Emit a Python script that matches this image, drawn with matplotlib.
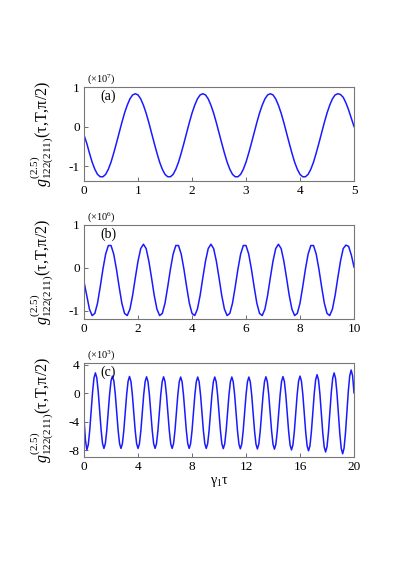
import numpy as np
import matplotlib
matplotlib.use('Agg')
import matplotlib.pyplot as plt

plt.rcParams['font.family'] = ['Liberation Serif', 'DejaVu Serif']
plt.rcParams['mathtext.fontset'] = 'custom'
plt.rcParams['mathtext.rm'] = 'Liberation Serif'
plt.rcParams['mathtext.it'] = 'Liberation Serif:italic'
plt.rcParams['mathtext.bf'] = 'Liberation Serif:bold'
plt.rcParams['axes.unicode_minus'] = False

# valeurs (unites de 1e7, 1e6, 1e3)
tau_a = np.linspace(0, 5, 101)
g_a = [-0.22, -0.42, -0.67, -0.90, -1.08, -1.21, -1.27, -1.27, -1.21, -1.08,
       -0.90, -0.67, -0.42, -0.16, 0.10, 0.34, 0.54, 0.70, 0.80,
       0.83, 0.80, 0.70, 0.54, 0.34, 0.10, -0.16, -0.42, -0.67, -0.90,
       -1.08, -1.21, -1.27, -1.27, -1.21, -1.08, -0.90, -0.67, -0.42, -0.16,
       0.10, 0.34, 0.54, 0.70, 0.80,
       0.83, 0.80, 0.70, 0.54, 0.34, 0.10, -0.16, -0.42, -0.67, -0.90,
       -1.08, -1.21, -1.27, -1.27, -1.21, -1.08, -0.90, -0.67, -0.42, -0.16,
       0.10, 0.34, 0.54, 0.70, 0.80,
       0.83, 0.80, 0.70, 0.54, 0.34, 0.10, -0.16, -0.42, -0.67, -0.90,
       -1.08, -1.21, -1.27, -1.27, -1.21, -1.08, -0.90, -0.67, -0.42, -0.16,
       0.10, 0.34, 0.54, 0.70, 0.80,
       0.83, 0.81, 0.74, 0.60, 0.42, 0.21, 0.00]

tau_b = np.linspace(0, 10, 101)
g_b = [-0.33, -0.64, -0.96, -1.11, -1.06, -0.82, -0.44, -0.03, 0.32, 0.52,
       0.52, 0.32, -0.03, -0.44, -0.82, -1.06, -1.11, -0.96, -0.64, -0.23,
       0.16, 0.45, 0.55, 0.45, 0.16,
       -0.23, -0.64, -0.96, -1.11, -1.06, -0.82, -0.44, -0.03, 0.32, 0.52,
       0.52, 0.32, -0.03, -0.44, -0.82, -1.06, -1.11, -0.96, -0.64, -0.23,
       0.16, 0.45, 0.55, 0.45, 0.16,
       -0.23, -0.64, -0.96, -1.11, -1.06, -0.82, -0.44, -0.03, 0.32, 0.52,
       0.52, 0.32, -0.03, -0.44, -0.82, -1.06, -1.11, -0.96, -0.64, -0.23,
       0.16, 0.45, 0.55, 0.45, 0.16,
       -0.23, -0.64, -0.96, -1.11, -1.06, -0.82, -0.44, -0.03, 0.32, 0.52,
       0.52, 0.32, -0.03, -0.44, -0.82, -1.06, -1.11, -0.96, -0.64, -0.23,
       0.16, 0.45, 0.53, 0.50, 0.30,
       0.02]

tau_c = np.linspace(0, 20, 191)
g_c = [-3.70, -6.60, -7.94, -7.22, -5.24, -2.55, 0.15, 2.13, 2.85,
       2.14, 0.20, -2.45, -5.10, -7.04, -7.75,
       -7.07, -5.21, -2.68, -0.14, 1.72, 2.40,
       1.72, -0.14, -2.68, -5.21, -7.07, -7.75,
       -7.07, -5.23, -2.70, -0.18, 1.67, 2.35,
       1.67, -0.18, -2.70, -5.23, -7.07, -7.75,
       -7.08, -5.24, -2.73, -0.21, 1.63, 2.30,
       1.63, -0.21, -2.73, -5.24, -7.08, -7.75,
       -7.08, -5.24, -2.73, -0.21, 1.63, 2.30,
       1.63, -0.21, -2.73, -5.24, -7.08, -7.75,
       -7.08, -5.25, -2.74, -0.24, 1.60, 2.27,
       1.60, -0.24, -2.74, -5.25, -7.08, -7.75,
       -7.08, -5.25, -2.74, -0.24, 1.60, 2.27,
       1.60, -0.24, -2.74, -5.25, -7.08, -7.75,
       -7.08, -5.25, -2.74, -0.24, 1.60, 2.27,
       1.60, -0.24, -2.76, -5.27, -7.11, -7.78,
       -7.11, -5.27, -2.76, -0.24, 1.60, 2.27,
       1.60, -0.25, -2.77, -5.28, -7.13, -7.80,
       -7.13, -5.28, -2.77, -0.25, 1.60, 2.27,
       1.59, -0.25, -2.78, -5.30, -7.14, -7.82,
       -7.14, -5.29, -2.76, -0.23, 1.62, 2.30,
       1.62, -0.24, -2.78, -5.31, -7.17, -7.85,
       -7.17, -5.31, -2.76, -0.22, 1.65, 2.33,
       1.64, -0.24, -2.81, -5.38, -7.26, -7.95,
       -7.26, -5.36, -2.78, -0.19, 1.71, 2.40,
       1.70, -0.22, -2.84, -5.46, -7.38, -8.08,
       -7.36, -5.41, -2.74, -0.07, 1.88, 2.60,
       1.87, -0.11, -2.83, -5.54, -7.52, -8.25,
       -7.51, -5.48, -2.70, 0.08, 2.11, 2.85,
       2.09, 0.01, -2.83, -5.66, -7.74, -8.50,
       -7.71, -5.56, -2.63, 0.31, 2.46, 3.25,
       2.45, 0.05]

panels = ['(a)', '(b)', '(c)']
scales = [r'$(\times10^{7})$', r'$(\times10^{6})$', r'$(\times10^{3})$']
xlims = [(0, 5), (0, 10), (0, 20)]
xticks = [np.arange(0, 6, 1), np.arange(0, 11, 2), np.arange(0, 21, 4)]
ylims = [(-1.38, 1.0), (-1.19, 1.0), (-8.95, 4.25)]
yticks = [[-1, 0, 1], [-1, 0, 1], [-8, -4, 0, 4]]
bottoms = [0.692, 0.4575, 0.2228]

ylab = r'$g^{(2.5)}_{122(211)}(\mathrm{\tau}{,}\mathrm{T}{,}\mathrm{\pi}/2)$'

fig = plt.figure(figsize=(4.16, 5.88), dpi=100)
data = [(tau_a, g_a), (tau_b, g_b), (tau_c, g_c)]
for i in range(3):
    ax = fig.add_axes([0.202, bottoms[i], 0.649, 0.160])
    x, y = data[i]
    ax.plot(x, y, color='#1a1aff', lw=1.1)
    ax.set_xlim(*xlims[i])
    ax.set_ylim(*ylims[i])
    ax.set_xticks(xticks[i])
    ax.set_yticks(yticks[i])
    ax.tick_params(direction='in', length=3, width=0.6, labelsize=9.5,
                   top=False, right=False, pad=3, color='#555555')
    for s in ax.spines.values():
        s.set_color('#777777')
        s.set_linewidth(0.8)
    ax.text(0.06, 0.9, panels[i], transform=ax.transAxes, fontsize=10,
            va='center', ha='left')
    ax.text(0.01, 1.01, scales[i], transform=ax.transAxes, fontsize=7.5,
            va='bottom', ha='left')
    ax.set_ylabel(ylab, fontsize=11.5)
    ax.yaxis.set_label_coords(-0.105, 0.5)
    if i == 2:
        ax.set_xlabel(r'$\mathrm{\gamma}_1\mathrm{\tau}$', fontsize=10,
                      labelpad=1)

fig.savefig('out.png', dpi=100)
